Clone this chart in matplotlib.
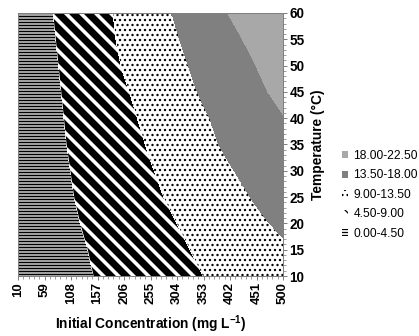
import matplotlib
matplotlib.use('Agg')
import matplotlib.pyplot as plt
from matplotlib.patches import Patch
from matplotlib.ticker import AutoMinorLocator
import numpy as np

# grid: concentration ticks x temperature rows
conc = [10, 59, 108, 157, 206, 255, 304, 353, 402, 451, 500]
temp = [10, 15, 20, 25, 30, 35, 40, 45, 50, 55, 60]

# estimated response at each (temp row, conc column)
z_rows = [
    [1.38, 2.47, 3.56, 4.66, 5.75, 6.84, 7.93, 9.02, 10.12, 11.21, 12.30],
    [1.43, 2.60, 3.76, 4.93, 6.09, 7.26, 8.43, 9.57, 10.69, 11.80, 12.92],
    [1.61, 2.84, 4.07, 5.30, 6.53, 7.76, 9.00, 10.29, 11.58, 12.87, 14.16],
    [1.68, 3.01, 4.34, 5.67, 6.99, 8.32, 9.68, 11.07, 12.45, 13.84, 15.23],
    [1.69, 3.11, 4.53, 5.95, 7.37, 8.79, 10.28, 11.77, 13.26, 14.75, 16.24],
    [1.73, 3.24, 4.75, 6.26, 7.76, 9.30, 10.93, 12.56, 14.20, 15.83, 17.46],
    [1.69, 3.31, 4.93, 6.55, 8.17, 9.81, 11.47, 13.12, 14.71, 16.28, 17.84],
    [1.64, 3.39, 5.14, 6.89, 8.64, 10.40, 12.17, 13.91, 15.60, 17.28, 18.96],
    [1.57, 3.48, 5.40, 7.32, 9.22, 10.98, 12.74, 14.51, 16.27, 18.04, 19.80],
    [1.64, 3.64, 5.65, 7.65, 9.60, 11.46, 13.31, 15.21, 17.10, 19.00, 20.90],
    [1.87, 3.85, 5.84, 7.82, 9.83, 11.85, 13.89, 16.03, 18.17, 20.40, 22.40],
]

levels = [0.0, 4.5, 9.0, 13.5, 18.0, 22.5]
labels = ['0.00-4.50', '4.50-9.00', '9.00-13.50', '13.50-18.00', '18.00-22.50']
faces = ['white', 'white', 'white', '#808080', '#a8a8a8']
hatches = ['-----', '\\\\', '...', None, None]
hatch_lw = [1.4, 5.6, 1.1, 0.5, 0.5]

plt.rcParams['font.family'] = ['Liberation Sans', 'DejaVu Sans']
plt.rcParams['mathtext.fontset'] = 'custom'
plt.rcParams['mathtext.rm'] = 'Liberation Sans'
plt.rcParams['mathtext.bf'] = 'Liberation Sans:bold'
plt.rcParams['mathtext.default'] = 'bf'
plt.rcParams['hatch.color'] = 'black'

dpi = 90
fig = plt.figure(figsize=(419 / dpi, 336 / dpi), dpi=dpi)
ax = fig.add_axes([18 / 419, 1 - 276 / 336, 265 / 419, 263 / 336])

Z = np.array(z_rows)
handles = []
for i in range(5):
    with plt.rc_context({'hatch.linewidth': hatch_lw[i]}):
        cs = ax.contourf(conc, temp, Z, levels=[levels[i], levels[i + 1]],
                         colors=[faces[i]], hatches=[hatches[i]], antialiased=False)
        if hasattr(cs, 'set_hatch_linewidth'):
            cs.set_hatch_linewidth(hatch_lw[i])
        p = Patch(facecolor=faces[i], hatch=hatches[i], edgecolor='black',
                  linewidth=0, label=labels[i])
        if hasattr(p, 'set_hatch_linewidth'):
            p.set_hatch_linewidth(hatch_lw[i])
        handles.append(p)

ax.set_xlim(10, 500)
ax.set_ylim(10, 60)
ax.set_xticks(conc)
ax.set_xticklabels([str(c) for c in conc], rotation=90, fontweight='bold', fontsize=10.5)
ax.set_yticks(temp)
ax.yaxis.tick_right()
ax.yaxis.set_label_position('right')
ax.set_yticklabels([str(t) for t in temp], fontweight='bold', fontsize=10.8)
ax.xaxis.set_minor_locator(AutoMinorLocator(5))
ax.yaxis.set_minor_locator(AutoMinorLocator(5))
ax.tick_params(which='major', length=3.5, width=0.8, color='#808080', pad=1.5)
ax.tick_params(which='minor', length=2.2, width=0.6, color='#808080')
for s in ax.spines.values():
    s.set_color('#808080')
    s.set_linewidth(0.8)

ax.set_xlabel('Initial Concentration (mg L$^{-1}$)', fontweight='bold', fontsize=11, labelpad=7)
ax.set_ylabel('Temperature (\u00b0C)', fontweight='bold', fontsize=11, labelpad=5)

fig.legend(handles=handles[::-1], loc='upper left', bbox_to_anchor=(342 / 419, 1 - 150 / 336),
           frameon=False, fontsize=9.6, handlelength=0.5, handleheight=0.5,
           handletextpad=0.45, labelspacing=0.62, borderpad=0, borderaxespad=0)

fig.savefig('out.png', dpi=dpi)
